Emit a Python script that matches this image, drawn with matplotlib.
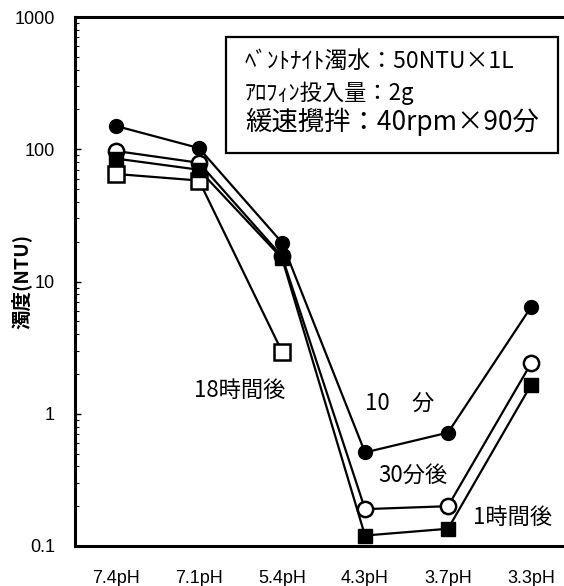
import matplotlib
matplotlib.use('Agg')
import matplotlib.pyplot as plt
from matplotlib.patches import Rectangle

plt.rcParams['font.family'] = ['Noto Sans CJK JP', 'DejaVu Sans']

# pH steps and turbidity (NTU) after each settling time
ph_labels = ['7.4pH', '7.1pH', '5.4pH', '4.3pH', '3.7pH', '3.3pH']
ntu_10min = [150, 102, 19.7, 0.51, 0.72, 6.4]
ntu_30min = [97, 79, 15.5, 0.19, 0.20, 2.4]
ntu_1h = [85, 70, 15.0, 0.12, 0.135, 1.65]
ntu_18h = [65, 58, 2.95]

x = list(range(len(ph_labels)))

W, H = 564, 586
fig = plt.figure(figsize=(W / 100, H / 100), dpi=100)
left, right, top, bottom = 74.5, 572.5, 17, 546
ax = fig.add_axes([left / W, 1 - bottom / H, (right - left) / W, (bottom - top) / H])

lw = 1.6
ax.plot(x[:3], ntu_18h, color='black', lw=lw, marker='s', ms=11,
        mfc='white', mec='black', mew=1.8, zorder=2)
ax.plot(x, ntu_1h, color='black', lw=lw, marker='s', ms=10,
        mfc='black', mec='black', zorder=3)
ax.plot(x, ntu_30min, color='black', lw=lw, marker='o', ms=11,
        mfc='white', mec='black', mew=1.8, zorder=2.5)
ax.plot(x, ntu_10min, color='black', lw=lw, marker='o', ms=10,
        mfc='black', mec='black', zorder=4)

ax.set_yscale('log')
ax.set_ylim(0.1, 1000)
ax.set_xlim(-0.5, 5.5)
ax.set_xticks(x)
ax.set_xticklabels(ph_labels, family='Liberation Sans')
ax.set_yticks([0.1, 1, 10, 100, 1000])
ax.set_yticklabels(['0.1', '1', '10', '100', '1000'], family='Liberation Sans')

ax.spines['right'].set_visible(False)
for s in ['left', 'bottom', 'top']:
    ax.spines[s].set_linewidth(2.2)

ax.tick_params(axis='x', length=0, pad=17, labelsize=13)
ax.tick_params(axis='y', which='major', direction='in', length=4, width=1, pad=14, labelsize=13)
ax.tick_params(axis='y', which='minor', direction='in', length=3, width=0.8)

fig.text(21 / W, 1 - 281 / H, '濁度(NTU)', rotation=90, ha='center', va='center',
         fontsize=14, fontweight='bold')

# time labels next to the curves
ax.text(1.49, 1.5, '18時間後', ha='center', va='center', fontsize=16)
ax.text(3.42, 1.2, '10　分', ha='center', va='center', fontsize=16)
ax.text(3.58, 0.345, '30分後', ha='center', va='center', fontsize=16)
ax.text(4.78, 0.163, '1時間後', ha='center', va='center', fontsize=16)

# test conditions box
fig.add_artist(Rectangle((226 / W, 1 - 153 / H), (558 - 226) / W, (153 - 37) / H,
                         transform=fig.transFigure, fill=True, facecolor='white',
                         edgecolor='black', lw=1.6, zorder=5))
fig.text(245 / W, 1 - 61 / H, 'ﾍﾞﾝﾄﾅｲﾄ濁水：50NTU×1L', va='center', fontsize=16.5, zorder=6)
fig.text(245 / W, 1 - 93 / H, 'ｱﾛﾌｨﾝ投入量：2g', va='center', fontsize=16, zorder=6)
fig.text(245 / W, 1 - 122 / H, '緩速攪拌：40rpm×90分', va='center', fontsize=19, zorder=6)

fig.savefig('out.png', dpi=100)
